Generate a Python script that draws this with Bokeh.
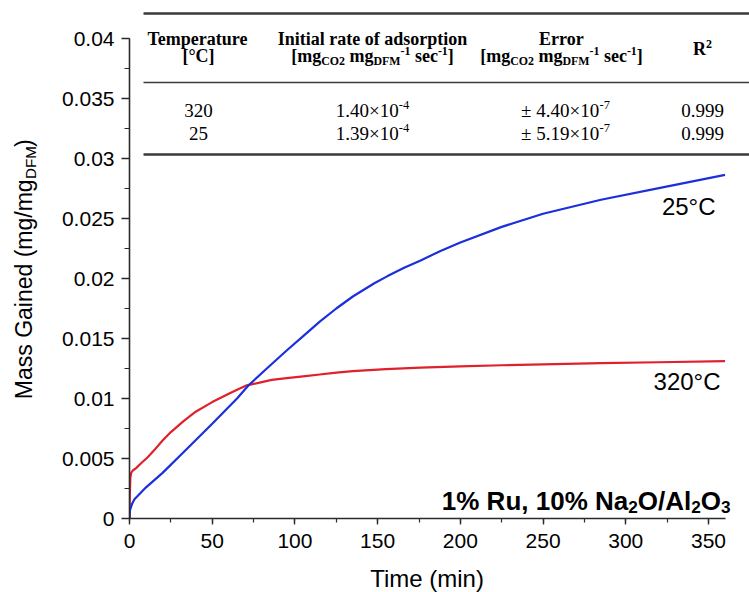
import math
from bokeh.plotting import figure
from bokeh.layouts import row, column
from bokeh.models import Range1d, SingleIntervalTicker, CustomJSTickFormatter, Label
from bokeh.embed import file_html
from bokeh.resources import INLINE

# ---------------- data ----------------
time_320 = [0, 0.2, 0.5, 1.0, 2.0, 4.0, 7.0, 11, 15, 20, 25, 32.5, 40, 50, 60, 66, 71, 78, 86,
            95, 105, 115, 125, 135, 155, 176, 200, 225, 250, 285, 320, 360]
mass_320 = [0, 0.0020, 0.0034, 0.0038, 0.0040, 0.0042, 0.0046, 0.0051, 0.0057, 0.0065, 0.0072,
            0.0081, 0.0089, 0.0097, 0.0104, 0.0108, 0.0111, 0.0113, 0.01155, 0.0117, 0.01185,
            0.0120, 0.01215, 0.01228, 0.01245, 0.01258, 0.01268, 0.01277, 0.01285, 0.01294,
            0.01302, 0.01311]

time_25 = [0, 0.3, 1.5, 3, 10, 20, 32.5, 50, 65, 72, 83, 95, 105, 115, 125, 135, 148, 156, 166,
           176, 188, 200, 225, 250, 285, 320, 360]
mass_25 = [0, 0.0007, 0.0012, 0.0016, 0.0026, 0.0038, 0.0055, 0.0079, 0.0100, 0.0111, 0.0125,
           0.0140, 0.0152, 0.0164, 0.0175, 0.0185, 0.0196, 0.0202, 0.0209, 0.0215, 0.0223,
           0.0230, 0.0243, 0.0254, 0.02656, 0.02753, 0.02864]

series_labels = ["25°C", "320°C"]
sample_label = [("1% Ru, 10% Na", "n"), ("2", "sub"), ("O/Al", "n"), ("2", "sub"), ("O", "n"), ("3", "sub")]

x_title = "Time (min)"
y_title_main = "Mass Gained (mg/mg"
y_title_sub = "DFM"
y_title_end = ")"

tbl_head1 = ["Temperature", "Initial rate of adsorption", "Error", "R"]
tbl_head_temp_unit = "[°C]"
tbl_unit = [("[mg", "n"), ("CO2", "sub"), (" mg", "n"), ("DFM", "sub"), ("-1", "sup"),
            (" sec", "n"), ("-1", "sup"), ("]", "n")]
tbl_temps = ["320", "25"]
tbl_rates = ["1.40×10", "1.39×10"]
tbl_rate_exp = ["-4", "-4"]
tbl_errors = ["± 4.40×10", "± 5.19×10"]
tbl_error_exp = ["-7", "-7"]
tbl_r2 = ["0.999", "0.999"]

# ---------------- geometry ----------------
W, H = 749, 592
LW = 45                    # width of left title strip
BH = 32                    # height of bottom title strip
X0, Y0 = 129, 518          # page pixel of data (0,0)
PXM = 579 / 350.0          # px per minute
PYU = 12000.0              # px per unit mass
TOP = 5
XMAX = (W - X0) / PXM
YMAX = (Y0 - TOP) / PYU


def dx(px):
    return (px - X0) / PXM


def dy(py):
    return (Y0 - py) / PYU


def blank_fig(w, h, xr, yr):
    f = figure(width=w, height=h, output_backend="svg", toolbar_location=None,
               x_range=Range1d(*xr), y_range=Range1d(*yr), x_axis_type=None, y_axis_type=None,
               min_border=0, min_border_left=0, min_border_right=0, min_border_top=0,
               min_border_bottom=0)
    f.outline_line_color = None
    f.xgrid.visible = False
    f.ygrid.visible = False
    f.background_fill_color = "white"
    f.border_fill_color = "white"
    return f


p = figure(width=W - LW, height=H - BH, output_backend="svg", toolbar_location=None,
           x_range=Range1d(0, XMAX), y_range=Range1d(0, YMAX),
           min_border_left=X0 - LW, min_border_right=0, min_border_top=TOP,
           min_border_bottom=H - BH - Y0)
p.outline_line_color = None
p.xgrid.visible = False
p.ygrid.visible = False
p.background_fill_color = "white"
p.border_fill_color = "white"

AXC = "#2b2b2b"
for ax in (p.xaxis[0], p.yaxis[0]):
    ax.axis_line_color = AXC
    ax.axis_line_width = 1.6
    ax.major_tick_line_color = AXC
    ax.minor_tick_line_color = AXC
    ax.major_tick_line_width = 1.4
    ax.minor_tick_line_width = 1.2
    ax.major_tick_in = 0
    ax.minor_tick_in = 0
    ax.major_label_text_font = "Liberation Sans"
    ax.major_label_text_font_size = "21px"
    ax.major_label_text_color = "black"

p.xaxis.ticker = SingleIntervalTicker(interval=50, num_minor_ticks=2)
p.yaxis.ticker = SingleIntervalTicker(interval=0.005, num_minor_ticks=2)
p.xaxis.bounds = (0, 360)
p.yaxis.bounds = (0, 0.04)
p.xaxis.major_tick_out = 6
p.xaxis.minor_tick_out = 4
p.yaxis.major_tick_out = 8
p.yaxis.minor_tick_out = 5
p.xaxis.major_label_standoff = 9
p.yaxis.major_label_standoff = 7
p.yaxis.formatter = CustomJSTickFormatter(code="return String(parseFloat(tick.toFixed(4)));")

p.line(time_320, mass_320, line_color="#e0202a", line_width=2.2)
p.line(time_25, mass_25, line_color="#1b2fdc", line_width=2.2)

# ---------------- text helpers ----------------
TB = {' ': 250, '[': 333, ']': 333, '°': 400, 'C': 722, 'E': 667, 'I': 389, 'R': 722, 'T': 667,
      'D': 722, 'F': 611, 'M': 944, 'O': 778, 'a': 500, 'c': 444, 'd': 556, 'e': 444, 'f': 333,
      'g': 500, 'i': 278, 'l': 278, 'm': 833, 'n': 556, 'o': 500, 'p': 556, 'r': 444, 's': 389,
      't': 333, 'u': 556, '-': 333}
TR = {' ': 250, '.': 250, '×': 564, '±': 564, '-': 333}
AR = {' ': 278, '°': 400, 'C': 722, 'M': 833, 'a': 556, 's': 500, 'G': 778, 'i': 222, 'n': 556,
      'e': 556, 'd': 556, '(': 333, ')': 333, 'm': 833, 'g': 556, '/': 278, 'D': 722, 'F': 611,
      'T': 611}
AB = {' ': 278, '%': 889, 'R': 722, 'u': 611, ',': 278, 'N': 722, 'a': 556, 'O': 778, '/': 278,
      'A': 722, 'l': 278}
TABLES = {("serif", True): (TB, 500), ("serif", False): (TR, 500),
          ("sans", False): (AR, 556), ("sans", True): (AB, 556)}
FONTS = {"serif": "Liberation Serif", "sans": "Liberation Sans"}


def tw(s, fam, bold):
    tab, d = TABLES[(fam, bold)]
    return sum(tab.get(c, d) for c in s) / 1000.0


def rich(fig, fx, fy, segs, x, mid, size, fam="serif", bold=False, align="center",
         color="black", sub_scale=0.66, sub_off=0.28, sup_off=0.27):
    """Place text pieces along a line; `mid` is the visual middle of the main text."""
    sizes = [size * (sub_scale if k != "n" else 1.0) for _, k in segs]
    widths = [tw(t, fam, bold) * s for (t, _), s in zip(segs, sizes)]
    total = sum(widths)
    cur = x - total / 2 if align == "center" else (x - total if align == "right" else x)
    for (t, k), s, w in zip(segs, sizes, widths):
        lead = len(t) - len(t.lstrip(" "))
        off = tw(" " * lead, fam, bold) * s
        ym = mid + (sub_off * size if k == "sub" else (-sup_off * size if k == "sup" else 0))
        fig.add_layout(Label(x=fx(cur + off), y=fy(ym), text=t.strip(), text_font=FONTS[fam],
                             text_font_size=f"{s:.1f}px",
                             text_font_style="bold" if bold else "normal",
                             text_color=color, text_align="left",
                             text_baseline="alphabetic"))
        cur += w


def main(segs, x, mid, size, **kw):
    rich(p, dx, dy, segs, x, mid, size, **kw)


# ---------------- table ----------------
RULE_C = "#3a3a3a"
p.segment(x0=[dx(143)], y0=[dy(13)], x1=[dx(749)], y1=[dy(13)], line_color=RULE_C, line_width=2.6)
p.segment(x0=[dx(143)], y0=[dy(82)], x1=[dx(749)], y1=[dy(82)], line_color=RULE_C, line_width=1.6)
p.segment(x0=[dx(143)], y0=[dy(154)], x1=[dx(749)], y1=[dy(154)], line_color=RULE_C, line_width=2.6)

COLS = [198, 372, 561, 702]
HS = 18
main([(tbl_head1[0], "n")], COLS[0], 38, HS, bold=True)
main([(tbl_head_temp_unit, "n")], COLS[0], 55, HS, bold=True)
main([(tbl_head1[1], "n")], COLS[1], 38, HS, bold=True)
main(tbl_unit, COLS[1], 55, HS, bold=True)
main([(tbl_head1[2], "n")], COLS[2], 38, HS, bold=True)
main(tbl_unit, COLS[2], 55, HS, bold=True)
main([(tbl_head1[3], "n"), ("2", "sup")], COLS[3], 48, HS, bold=True)

RS = 19
for i, mid in enumerate([110, 133]):
    main([(tbl_temps[i], "n")], COLS[0], mid, RS)
    main([(tbl_rates[i], "n"), (tbl_rate_exp[i], "sup")], COLS[1], mid, RS)
    main([(tbl_errors[i], "n"), (tbl_error_exp[i], "sup")], COLS[2] + 4, mid, RS)
    main([(tbl_r2[i], "n")], COLS[3], mid, RS)

# ---------------- annotations in the plot ----------------
main([(series_labels[0], "n")], 715, 206, 24, fam="sans", align="right")
main([(series_labels[1], "n")], 720, 381, 24, fam="sans", align="right")
main(sample_label, 730, 500, 26, fam="sans", bold=True, align="right", sub_off=0.24)

# ---------------- left strip: rotated y title ----------------
left = blank_fig(LW, H - BH, (0, LW), (H - BH, 0))
YS = 23.0
SS = YS * 0.66
FIT = 1.04                 # rendered text runs a little wider than the width table
SHIFT = 0.8 * YS           # one common offset for all pieces of the title
E = 400.0 - tw(y_title_main, "sans", False) * YS * FIT   # where the main text ends
sub_len = tw(y_title_sub, "sans", False) * SS * FIT


def ylab(text, x, y, size, align):
    left.add_layout(Label(x=x, y=y + SHIFT, text=text, text_font="Liberation Sans",
                          text_font_size=f"{size:.1f}px", angle=math.pi / 2, text_align=align,
                          text_baseline="middle", text_color="black"))


ylab(y_title_main, 23.0, E, YS, "right")
ylab(y_title_sub, 30.0, E - 0.5, SS, "left")
ylab(y_title_end, 23.0, E - 1 - sub_len, YS, "left")

# ---------------- bottom strip: x title ----------------
bottom = blank_fig(W, BH, (0, W), (H, H - BH))
rich(bottom, lambda v: v, lambda v: v, [(x_title, "n")], 427, 578, 24, fam="sans")

layout = column(row(left, p, spacing=0), bottom, spacing=0)
open("out.html", "w").write(file_html(layout, INLINE))
